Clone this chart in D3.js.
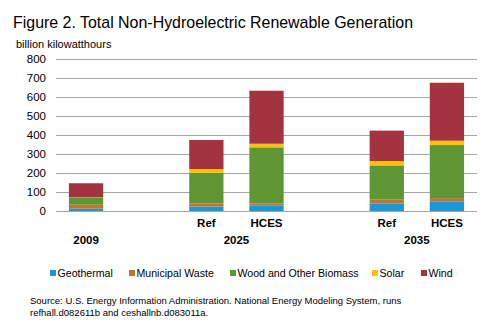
<!DOCTYPE html>
<html>
<head>
<meta charset="utf-8">
<script src="https://cdnjs.cloudflare.com/ajax/libs/d3/7.8.5/d3.min.js"></script>
<style>
  body { margin: 0; background: #fff; }
  svg text { font-family: "Liberation Sans", Arial, sans-serif; fill: #000; }
</style>
</head>
<body>
<div id="chart"></div>
<script>
// bars, left to right (blank slots keep the gaps between the year groups)
var slots = ["2009", "gap1", "Ref 2025", "HCES 2025", "gap2", "Ref 2035", "HCES 2035"];
var cases = ["2009", "Ref 2025", "HCES 2025", "Ref 2035", "HCES 2035"];
var caseLabels = ["", "Ref", "HCES", "Ref", "HCES"];
var years = [["2009", "2009"], ["2025", "Ref 2025", "HCES 2025"], ["2035", "Ref 2035", "HCES 2035"]];

var sources = ["Geothermal", "Municipal Waste", "Wood and Other Biomass", "Solar", "Wind"];
var colors = ["#1a97d5", "#c1732f", "#5e9633", "#ffc000", "#a3333f"];

// billion kWh
var geothermal = [12, 23, 30, 40, 51];
var municipalWaste = [21, 17, 10, 20, 17];
var biomass = [39, 162, 295, 180, 279];
var solar = [1, 19, 19, 23, 23];
var wind = [73, 153, 279, 160, 305];

var yTicks = [0, 100, 200, 300, 400, 500, 600, 700, 800];

var width = 488, height = 327;
var margin = {top: 59, left: 56, right: 11, bottom: 116};

var svg = d3.select("#chart")
    .append("svg")
    .attr("width", width)
    .attr("height", height);

var rows = cases.map(function(c, i) {
    return {
        key: c,
        "Geothermal": geothermal[i],
        "Municipal Waste": municipalWaste[i],
        "Wood and Other Biomass": biomass[i],
        "Solar": solar[i],
        "Wind": wind[i]
    };
});

var x = d3.scaleBand()
    .domain(slots)
    .range([margin.left, width - margin.right])
    .paddingInner(0.43)
    .paddingOuter(0.215);

var y = d3.scaleLinear()
    .domain([0, 800])
    .range([height - margin.bottom, margin.top]);

var stack = d3.stack().keys(sources);
var series = stack(rows);

// gridlines + y labels
var yAxis = d3.axisLeft(y)
    .tickValues(yTicks)
    .tickSize(-(width - margin.left - margin.right))
    .tickPadding(10);

var gy = svg.append("g")
    .attr("transform", "translate(" + margin.left + ",0)")
    .call(yAxis);
gy.select(".domain").remove();
gy.selectAll(".tick line").attr("stroke", "#a6a6a6").attr("stroke-width", 1);
gy.selectAll(".tick text")
    .attr("font-size", 11.5)
    .attr("fill", "#000")
    .style("font-family", "Liberation Sans, Arial, sans-serif");

// stacked bars
svg.append("g").selectAll("g")
    .data(series)
    .enter()
    .append("g")
    .attr("fill", function(d, i) { return colors[i]; })
    .selectAll("rect")
    .data(function(d) { return d; })
    .enter()
    .append("rect")
    .attr("x", function(d) { return x(d.data.key); })
    .attr("width", x.bandwidth())
    .attr("y", function(d) { return y(d[1]); })
    .attr("height", function(d) { return y(d[0]) - y(d[1]); });

// case labels under each bar
svg.append("g").selectAll("text")
    .data(cases)
    .enter()
    .append("text")
    .attr("x", function(d) { return x(d) + x.bandwidth() / 2; })
    .attr("y", 227)
    .attr("text-anchor", "middle")
    .attr("font-size", 11.5)
    .attr("font-weight", "bold")
    .text(function(d, i) { return caseLabels[i]; });

// year labels centred under their bars
svg.append("g").selectAll("text")
    .data(years)
    .enter()
    .append("text")
    .attr("x", function(d) {
        var first = x(d[1]), last = x(d[d.length - 1]) + x.bandwidth();
        return (first + last) / 2;
    })
    .attr("y", 244)
    .attr("text-anchor", "middle")
    .attr("font-size", 11.5)
    .attr("font-weight", "bold")
    .text(function(d) { return d[0]; });

// title and unit
svg.append("text")
    .attr("x", 13)
    .attr("y", 28)
    .attr("font-size", 17)
    .attr("textLength", 400)
    .attr("lengthAdjust", "spacingAndGlyphs")
    .text("Figure 2. Total Non-Hydroelectric Renewable Generation");

svg.append("text")
    .attr("x", 16)
    .attr("y", 48)
    .attr("font-size", 11)
    .text("billion kilowatthours");

// legend
var legendX = [50, 129, 230, 372, 421];
var legend = svg.append("g").selectAll("g")
    .data(sources)
    .enter()
    .append("g")
    .attr("transform", function(d, i) { return "translate(" + legendX[i] + ",273)"; });

legend.append("rect")
    .attr("x", 0)
    .attr("y", -3)
    .attr("width", 6)
    .attr("height", 6)
    .attr("fill", function(d, i) { return colors[i]; });

legend.append("text")
    .attr("x", 7.5)
    .attr("y", 4)
    .attr("font-size", 10.6)
    .text(function(d) { return d; });

// source note
var note = svg.append("text")
    .attr("x", 30)
    .attr("font-size", 9.5);
note.append("tspan")
    .attr("x", 30)
    .attr("y", 304)
    .text("Source:  U.S. Energy Information Administration.  National Energy Modeling System, runs");
note.append("tspan")
    .attr("x", 30)
    .attr("y", 316)
    .text("refhall.d082611b and ceshallnb.d083011a.");
</script>
</body>
</html>
